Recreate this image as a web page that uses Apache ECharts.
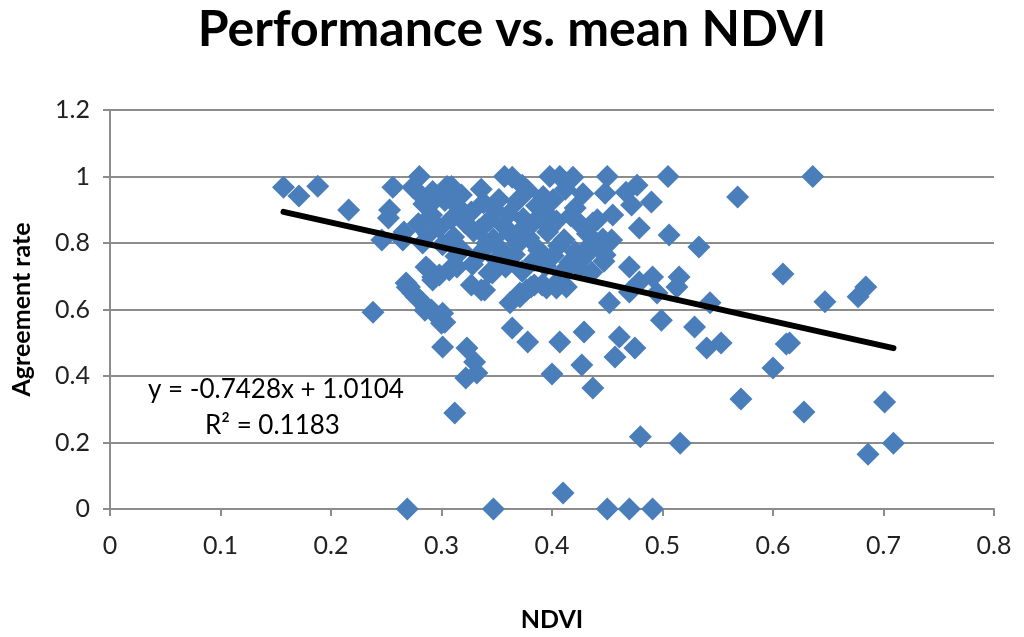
<!DOCTYPE html>
<html>
<head>
<meta charset="utf-8">
<script src="https://cdn.jsdelivr.net/npm/echarts@6/dist/echarts.min.js"></script>
<style>
html,body{margin:0;padding:0;background:#fff;}
#chart{width:1024px;height:637px;}
</style>
</head>
<body>
<div id="chart"></div>
<script>
// NDVI values (x) and agreement rates (y)
const ndvi = [
  0.157,0.171,0.188,0.216,0.238,0.246,0.256,0.253,0.252,0.269,0.269,0.280,0.274,0.283,0.292,0.266,0.265,0.283,0.286,0.292,
  0.271,0.277,0.286,0.295,0.300,0.301,0.312,0.323,0.330,0.332,0.322,0.347,0.285,0.303,0.289,0.298,0.307,0.314,0.292,0.327,
  0.336,0.343,0.350,0.268,0.274,0.282,0.291,0.301,0.362,0.371,0.381,0.391,0.404,0.413,0.364,0.378,0.407,0.429,0.400,0.427,
  0.437,0.452,0.461,0.475,0.457,0.499,0.529,0.540,0.553,0.480,0.516,0.410,0.450,0.470,0.491,0.636,0.568,0.533,0.609,0.543,
  0.647,0.677,0.684,0.615,0.612,0.600,0.571,0.628,0.701,0.686,0.709,0.357,0.364,0.373,0.398,0.407,0.419,0.450,0.505,0.448,
  0.467,0.477,0.472,0.490,0.455,0.437,0.479,0.506,0.454,0.448,0.432,0.470,0.491,0.515,0.513,0.479,0.470,0.495,0.425,0.404,
  0.395,0.384,0.377,0.371,0.339,0.346,0.305,0.309,
  0.292,0.318,0.336,0.352,0.378,0.392,0.412,0.428,
  0.284,0.303,0.316,0.338,0.349,0.368,0.386,0.401,0.421,
  0.291,0.309,0.327,0.343,0.361,0.374,0.393,0.404,0.417,0.441,
  0.279,0.298,0.321,0.334,0.356,0.372,0.383,0.398,0.426,
  0.288,0.311,0.329,0.347,0.362,0.379,0.396,0.411,0.432,0.446,
  0.301,0.318,0.341,0.353,0.369,0.388,0.406,0.421,0.438,
  0.313,0.336,0.351,0.366,0.384,0.401,0.416,0.429,0.447,
  0.328,0.358,0.373,0.394,0.412,0.436
];
const agreement = [
  0.968,0.941,0.971,0.899,0.592,0.809,0.968,0.899,0.875,0.667,0.000,1.000,0.968,0.938,0.923,0.833,0.809,0.800,0.728,0.698,
  0.668,0.638,0.608,0.583,0.559,0.487,0.289,0.484,0.442,0.409,0.394,0.000,0.598,0.562,0.719,0.704,0.719,0.728,0.689,0.674,
  0.659,0.710,0.749,0.680,0.650,0.623,0.598,0.589,0.620,0.650,0.668,0.674,0.665,0.668,0.544,0.502,0.502,0.532,0.406,0.433,
  0.364,0.620,0.517,0.484,0.457,0.568,0.547,0.484,0.499,0.217,0.198,0.048,0.000,0.000,0.000,1.000,0.938,0.788,0.707,0.620,
  0.623,0.638,0.668,0.499,0.496,0.424,0.331,0.292,0.322,0.165,0.198,1.000,0.998,0.974,1.000,1.000,0.998,1.000,1.000,0.950,
  0.953,0.974,0.914,0.923,0.884,0.860,0.845,0.824,0.809,0.764,0.785,0.728,0.698,0.698,0.668,0.683,0.653,0.650,0.725,0.680,
  0.665,0.674,0.659,0.638,0.659,0.710,0.970,0.970,
  0.955,0.944,0.962,0.931,0.958,0.940,0.962,0.948,
  0.917,0.928,0.905,0.921,0.898,0.925,0.912,0.930,0.905,
  0.884,0.872,0.893,0.868,0.887,0.874,0.895,0.866,0.882,0.870,
  0.858,0.845,0.862,0.840,0.853,0.838,0.861,0.846,0.855,
  0.826,0.818,0.835,0.812,0.829,0.815,0.833,0.810,0.828,0.812,
  0.795,0.780,0.799,0.782,0.797,0.778,0.792,0.774,0.795,
  0.760,0.772,0.752,0.765,0.748,0.762,0.741,0.758,0.745,
  0.735,0.728,0.715,0.731,0.722,0.712
];
// Linear trendline shown on the chart
const trendSlope = -0.7428;
const trendIntercept = 1.0104;
const trendRange = [0.157, 0.709];
const xTicks = [0, 0.1, 0.2, 0.3, 0.4, 0.5, 0.6, 0.7, 0.8];
const yTicks = [0, 0.2, 0.4, 0.6, 0.8, 1, 1.2];

const points = ndvi.map((x, i) => [x, agreement[i]]);
const trend = trendRange.map(x => [x, trendSlope * x + trendIntercept]);

const FONT = 'Lato';
const chart = echarts.init(document.getElementById('chart'));
chart.setOption({
  animation: false,
  backgroundColor: '#fff',
  title: {
    text: 'Performance vs. mean NDVI',
    left: 'center',
    top: 0,
    textStyle: { fontFamily: FONT, fontWeight: 'bold', fontSize: 50, color: '#000' }
  },
  grid: { left: 110, right: 30, top: 110, bottom: 128 },
  xAxis: {
    type: 'value', min: xTicks[0], max: xTicks[xTicks.length - 1], interval: 0.1,
    name: 'NDVI', nameLocation: 'middle', nameGap: 98,
    nameTextStyle: { fontFamily: FONT, fontWeight: 'bold', fontSize: 25, color: '#000' },
    axisLine: { lineStyle: { color: '#8c8c8c', width: 2 } },
    axisTick: { show: true, length: 7, lineStyle: { color: '#8c8c8c', width: 2 } },
    axisLabel: { fontFamily: FONT, fontSize: 25, color: '#222', margin: 24 },
    splitLine: { show: false }
  },
  yAxis: {
    type: 'value', min: yTicks[0], max: yTicks[yTicks.length - 1], interval: 0.2,
    name: 'Agreement rate', nameLocation: 'middle', nameGap: 76,
    nameTextStyle: { fontFamily: FONT, fontWeight: 'bold', fontSize: 25, color: '#000' },
    axisLine: { show: true, lineStyle: { color: '#8c8c8c', width: 2 } },
    axisTick: { show: true, length: 7, lineStyle: { color: '#8c8c8c', width: 2 } },
    axisLabel: { fontFamily: FONT, fontSize: 25, color: '#222', margin: 20 },
    splitLine: { show: true, lineStyle: { color: '#8c8c8c', width: 2 } }
  },
  series: [
    {
      type: 'scatter', data: points, symbol: 'diamond', symbolSize: [23, 23],
      itemStyle: { color: '#4a7ebb', opacity: 1 }, z: 2
    },
    {
      type: 'line', data: trend, symbol: 'none',
      lineStyle: { color: '#000', width: 6, cap: 'round' }, z: 3
    }
  ],
  graphic: [
    { type: 'text', left: 148, top: 377, style: { text: 'y = -0.7428x + 1.0104', fontFamily: FONT, fontSize: 26, fill: '#000' } },
    { type: 'text', left: 205, top: 413, style: { text: 'R² = 0.1183', fontFamily: FONT, fontSize: 26, fill: '#000' } }
  ]
});
</script>
</body>
</html>
